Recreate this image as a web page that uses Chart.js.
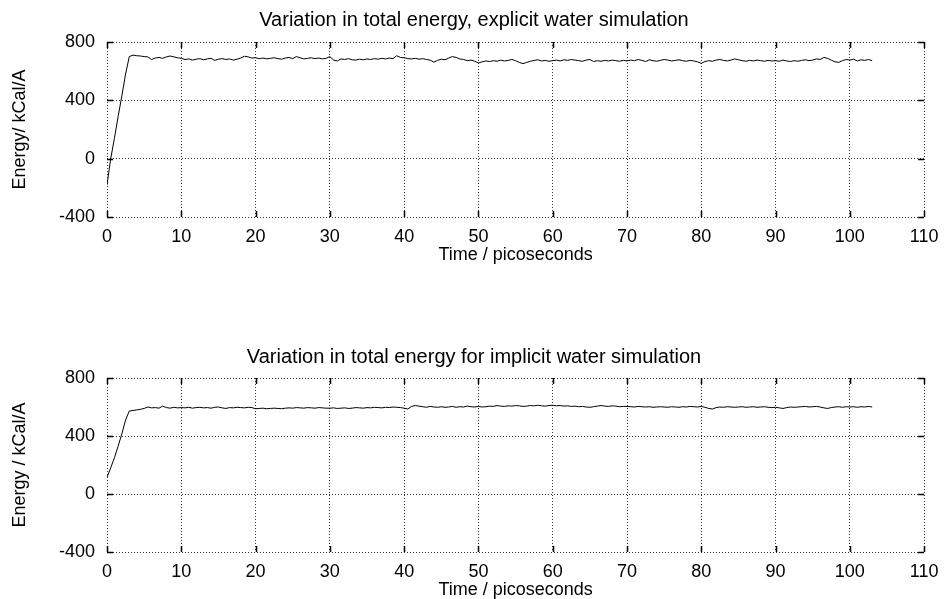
<!DOCTYPE html>
<html>
<head>
<meta charset="utf-8">
<script src="https://cdn.jsdelivr.net/npm/chart.js@4/dist/chart.umd.min.js"></script>
<style>
  body { margin: 0; background: #fff; }
  #wrapTop { position: absolute; left: 0; top: 0; width: 948px; height: 300px; }
  #wrapBottom { position: absolute; left: 0; top: 300px; width: 948px; height: 299px; }
</style>
</head>
<body>
<div id="wrapTop"><canvas id="explicitChart" width="948" height="300"></canvas></div>
<div id="wrapBottom"><canvas id="implicitChart" width="948" height="299"></canvas></div>
<script>
// samples every 0.5 ps, from 0 to 103 ps
const sampleStep = 0.5;
const timePs = Array.from({ length: 207 }, (_, i) => i * sampleStep);

const xTicks = [0, 10, 20, 30, 40, 50, 60, 70, 80, 90, 100, 110];
const yTicks = [-400, 0, 400, 800];

// total energy, explicit water (kCal/A)
const explicitEnergy = [
    -180, 0, 140, 290, 430, 580, 700,
    710, 706, 704, 700, 698, 680, 690, 694, 688, 698, 704, 698, 692,
    688, 680, 684, 676, 682, 686, 678, 684, 688, 674, 682, 686, 680, 684, 676, 682, 690, 702, 698, 690,
    692, 686, 690, 684, 688, 692, 686, 682, 690, 694, 686, 700, 692, 684, 688, 692, 686, 690, 684, 688,
    700, 676, 670, 684, 680, 686, 678, 676, 682, 678, 684, 680, 686, 682, 688, 684, 690, 686, 706, 694,
    692, 686, 684, 688, 682, 686, 680, 676, 662, 674, 682, 678, 690, 700, 694, 684, 680, 672, 676, 668,
    656, 664, 670, 666, 672, 668, 676, 670, 674, 680, 672, 660, 652, 660, 668, 674, 678, 670, 674, 668,
    672, 676, 670, 678, 674, 680, 676, 672, 668, 676, 680, 666, 672, 668, 674, 670, 676, 672, 668, 674,
    670, 676, 672, 680, 674, 666, 678, 672, 668, 674, 680, 676, 670, 674, 678, 672, 668, 674, 670, 664,
    654, 666, 672, 668, 676, 680, 674, 670, 676, 684, 678, 672, 668, 674, 670, 676, 672, 668, 674, 670,
    672, 668, 676, 670, 666, 672, 668, 674, 678, 672, 676, 684, 680, 694, 688, 676, 664, 660, 672, 680,
    676, 682, 670, 678, 674, 680, 672
];

// total energy, implicit water (kCal/A)
const implicitEnergy = [
    115, 180, 250, 330, 415, 510, 572,
    576, 580, 584, 590, 600, 594, 596, 592, 606, 596, 592, 598, 594,
    596, 594, 598, 592, 596, 598, 594, 596, 592, 598, 600, 594, 590, 596, 594, 598, 596, 594, 598, 596,
    588, 590, 592, 588, 590, 592, 590, 588, 592, 594, 592, 596, 594, 592, 596, 594, 592, 596, 594, 592,
    592, 594, 590, 592, 594, 590, 592, 596, 594, 592, 596, 594, 598, 596, 594, 598, 596, 600, 598, 596,
    592, 586, 604, 610, 606, 602, 598, 604, 600, 598, 602, 598, 600, 604, 598, 602, 600, 606, 602, 600,
    604, 600, 602, 606, 604, 610, 606, 604, 608, 606, 610, 608, 604, 606, 610, 608, 612, 608, 606, 610,
    612, 608, 610, 606, 608, 604, 606, 602, 604, 600, 598, 602, 606, 610, 606, 604, 608, 606, 602, 604,
    604, 602, 600, 604, 602, 600, 602, 598, 600, 602, 600, 598, 602, 600, 598, 602, 600, 604, 602, 600,
    604, 598, 590, 586, 596, 600, 598, 602, 600, 598, 600, 602, 598, 600, 602, 598, 600, 602, 598, 596,
    598, 594, 590, 596, 600, 598, 600, 602, 604, 600, 602, 604, 600, 594, 590, 596, 600, 602, 598, 602,
    600, 602, 598, 602, 600, 604, 600
];

Chart.defaults.font.family = "'Liberation Sans', Arial, sans-serif";
Chart.defaults.font.size = 18;
Chart.defaults.color = '#000';

// gnuplot style: short solid ticks inside the plot on all four sides
const innerTicks = {
    id: 'innerTicks',
    afterDraw(chart) {
        const { ctx, chartArea: a, scales } = chart;
        const len = 6;
        ctx.save();
        ctx.strokeStyle = '#000';
        ctx.lineWidth = 1.5;
        ctx.beginPath();
        scales.x.ticks.forEach(t => {
            const px = Math.round(scales.x.getPixelForValue(t.value)) + 0.5;
            ctx.moveTo(px, a.bottom); ctx.lineTo(px, a.bottom - len);
            ctx.moveTo(px, a.top); ctx.lineTo(px, a.top + len);
        });
        scales.y.ticks.forEach(t => {
            const py = Math.round(scales.y.getPixelForValue(t.value)) + 0.5;
            ctx.moveTo(a.left, py); ctx.lineTo(a.left + len, py);
            ctx.moveTo(a.right, py); ctx.lineTo(a.right - len, py);
        });
        ctx.stroke();
        ctx.restore();
    }
};

function makeChart(canvas, title, yLabel, values, titlePad, xHeight, xTitlePadBottom, bottomPad) {
    const pts = timePs.map((t, i) => ({ x: t, y: values[i] }));
    return new Chart(canvas, {
        type: 'line',
        data: {
            datasets: [{
                data: pts,
                borderColor: '#000',
                borderWidth: 1,
                pointRadius: 0,
                tension: 0,
                fill: false
            }]
        },
        options: {
            responsive: false,
            animation: false,
            layout: { padding: { left: 17, right: 17, top: 0, bottom: bottomPad } },
            scales: {
                x: {
                    type: 'linear',
                    min: xTicks[0],
                    max: xTicks[xTicks.length - 1],
                    afterBuildTicks: s => { s.ticks = xTicks.map(v => ({ value: v })); },
                    ticks: { padding: 9.5, maxRotation: 0, color: '#000' },
                    grid: { color: 'rgba(0,0,0,0.8)', lineWidth: 1, drawTicks: false },
                    border: { display: false, dash: [1, 2] },
                    title: { display: true, text: 'Time / picoseconds', padding: { top: 0, bottom: xTitlePadBottom }, color: '#000' },
                    afterFit: s => { s.height = xHeight; }
                },
                y: {
                    min: yTicks[0],
                    max: yTicks[yTicks.length - 1],
                    afterBuildTicks: s => { s.ticks = yTicks.map(v => ({ value: v })); },
                    ticks: { padding: 12, color: '#000' },
                    grid: { color: 'rgba(0,0,0,0.8)', lineWidth: 1, drawTicks: false },
                    border: { display: false, dash: [1, 2] },
                    title: { display: true, text: yLabel, padding: { top: -7.8, bottom: 0 }, color: '#000' },
                    afterFit: s => { s.width = 90; }
                }
            },
            plugins: {
                legend: { display: false },
                tooltip: { enabled: false },
                title: {
                    display: true,
                    text: title,
                    color: '#000',
                    font: { size: 20, weight: 'normal' },
                    padding: titlePad
                }
            }
        },
        plugins: [innerTicks]
    });
}

const explicitChart = makeChart(
    document.getElementById('explicitChart'),
    'Variation in total energy, explicit water simulation',
    'Energy/ kCal/A',
    explicitEnergy,
    { top: 8, bottom: 10 }, 49, 0, 34
);

const implicitChart = makeChart(
    document.getElementById('implicitChart'),
    'Variation in total energy for implicit water simulation',
    'Energy / kCal/A',
    implicitEnergy,
    { top: 45, bottom: 9 }, 47, -1.5, 0
);
</script>
</body>
</html>
